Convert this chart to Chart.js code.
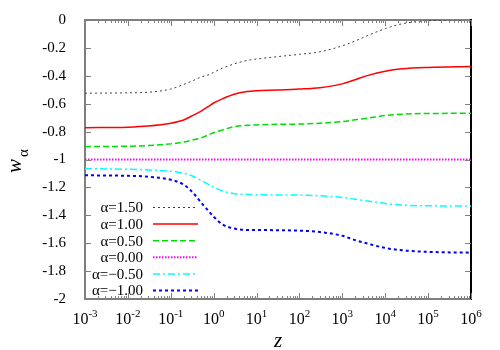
<!DOCTYPE html>
<html>
<head>
<meta charset="utf-8">
<script src="https://cdn.jsdelivr.net/npm/chart.js@4.4.1/dist/chart.umd.min.js"></script>
<style>
  html, body { margin: 0; padding: 0; background: #fff; }
  #wrap { width: 500px; height: 350px; }
</style>
</head>
<body>
<div id="wrap"><canvas id="chart"></canvas></div>
<script>
// z values (log axis) shared by all curves
const zValues = [1e-3, 1e-2, 0.03, 0.1, 0.2, 0.3, 0.5, 0.8, 1, 1.6, 3, 6, 10, 30, 100, 300, 1000, 2000, 4000, 1e4, 25000, 1e5, 1e6];

// alpha=1.50 ... alpha=-1.00
const legendLabels = ['\u03b1=1.50', '\u03b1=1.00', '\u03b1=0.50', '\u03b1=0.00', '\u03b1=\u22120.50', '\u03b1=\u22121.00'];

const wAlpha150 = [-0.525, -0.522, -0.518, -0.495, -0.462, -0.44, -0.41, -0.39, -0.375, -0.345, -0.315, -0.29, -0.28, -0.263, -0.246, -0.228, -0.185, -0.15, -0.11, -0.062, -0.027, -0.005, 0.0];
const wAlpha100 = [-0.772, -0.768, -0.76, -0.74, -0.717, -0.69, -0.655, -0.615, -0.595, -0.565, -0.532, -0.513, -0.507, -0.502, -0.495, -0.485, -0.458, -0.428, -0.397, -0.367, -0.35, -0.34, -0.334];
const wAlpha050 = [-0.908, -0.905, -0.9, -0.888, -0.875, -0.862, -0.846, -0.82, -0.808, -0.788, -0.765, -0.755, -0.752, -0.748, -0.746, -0.74, -0.728, -0.715, -0.703, -0.685, -0.675, -0.67, -0.669];
const wAlpha000 = [-1, -1, -1, -1, -1, -1, -1, -1, -1, -1, -1, -1, -1, -1, -1, -1, -1, -1, -1, -1, -1, -1, -1];
const wAlphaM050 = [-1.065, -1.07, -1.075, -1.085, -1.099, -1.115, -1.148, -1.183, -1.198, -1.225, -1.245, -1.25, -1.252, -1.254, -1.255, -1.26, -1.272, -1.285, -1.298, -1.315, -1.327, -1.332, -1.333];
const wAlphaM100 = [-1.113, -1.117, -1.123, -1.145, -1.18, -1.225, -1.305, -1.377, -1.41, -1.465, -1.495, -1.505, -1.505, -1.507, -1.51, -1.52, -1.547, -1.578, -1.604, -1.634, -1.651, -1.662, -1.668];

const yTicks = [0, -0.2, -0.4, -0.6, -0.8, -1, -1.2, -1.4, -1.6, -1.8, -2];
const xExponents = [-3, -2, -1, 0, 1, 2, 3, 4, 5, 6];

const SERIF = '"Liberation Serif", serif';

function makeSeries(label, arr, color, width, dash) {
  return {
    label: label,
    data: zValues.map((z, i) => ({ x: z, y: arr[i] })),
    borderColor: color,
    borderWidth: width,
    borderDash: dash,
    pointRadius: 0,
    fill: false,
    cubicInterpolationMode: 'monotone',
    xAxisID: 'x',
    yAxisID: 'y'
  };
}

// inward tick marks
const tickPlugin = {
  id: 'tickMarks',
  afterDatasetsDraw(chart) {
    const ctx = chart.ctx;
    const a = chart.chartArea;
    const xs = chart.scales.x;
    const ys = chart.scales.y;
    ctx.save();
    ctx.fillStyle = '#808080';
    yTicks.forEach(v => {
      const py = Math.round(ys.getPixelForValue(v));
      ctx.fillRect(a.left, py, 6, 1);
      ctx.fillRect(a.right - 6, py, 6, 1);
    });
    const first = xExponents[0], last = xExponents[xExponents.length - 1];
    for (let e = first; e <= last; e++) {
      for (let m = 1; m < 10; m++) {
        if (e === last && m > 1) break;
        const px = Math.round(xs.getPixelForValue(m * Math.pow(10, e)));
        const len = m === 1 ? 6 : 3;
        ctx.fillRect(px, a.bottom - len, 1, len);
        ctx.fillRect(px, a.top, 1, len);
      }
    }
    ctx.restore();
  }
};

// x labels 10^n, axis titles and key
const textPlugin = {
  id: 'texts',
  afterDraw(chart) {
    const ctx = chart.ctx;
    const a = chart.chartArea;
    const xs = chart.scales.x;
    ctx.save();
    ctx.fillStyle = '#000';
    ctx.textBaseline = 'alphabetic';
    ctx.textAlign = 'left';
    xExponents.forEach(e => {
      const px = xs.getPixelForValue(Math.pow(10, e));
      const sup = String(e);
      ctx.font = '16px ' + SERIF;
      const w1 = ctx.measureText('10').width;
      ctx.font = '11px ' + SERIF;
      const w2 = ctx.measureText(sup).width;
      const x0 = px - (w1 + w2) / 2;
      ctx.font = '16px ' + SERIF;
      ctx.fillText('10', x0, 324);
      ctx.font = '11px ' + SERIF;
      ctx.fillText(sup, x0 + w1, 317);
    });

    ctx.font = 'italic 21px ' + SERIF;
    ctx.textAlign = 'center';
    ctx.fillText('z', (a.left + a.right) / 2, 347);

    ctx.save();
    ctx.translate(21, 165);
    ctx.rotate(-Math.PI / 2);
    ctx.textAlign = 'left';
    ctx.font = 'italic 21px ' + SERIF;
    ctx.fillText('w', -8, 0);
    ctx.font = '15px ' + SERIF;
    ctx.fillText('\u03b1', 8, 7);
    ctx.restore();

    chart.data.datasets.forEach((ds, i) => {
      const ty = 207.5 + i * 16.6;
      ctx.font = '15px ' + SERIF;
      ctx.textAlign = 'right';
      ctx.textBaseline = 'middle';
      ctx.fillStyle = '#000';
      ctx.fillText(ds.label, 143, ty + 1);
      ctx.strokeStyle = ds.borderColor;
      ctx.lineWidth = ds.borderWidth;
      ctx.setLineDash(ds.borderDash || []);
      ctx.beginPath();
      ctx.moveTo(153, ty);
      ctx.lineTo(198, ty);
      ctx.stroke();
    });
    ctx.setLineDash([]);
    ctx.restore();
  }
};

document.addEventListener('DOMContentLoaded', function () {
  new Chart(document.getElementById('chart'), {
    type: 'line',
    data: {
      datasets: [
        makeSeries(legendLabels[0], wAlpha150, '#404040', 1, [2, 3]),
        makeSeries(legendLabels[1], wAlpha100, '#ff0000', 1.5, []),
        makeSeries(legendLabels[2], wAlpha050, '#00dd00', 1.5, [6, 3]),
        makeSeries(legendLabels[3], wAlpha000, '#ff00ff', 2, [1.5, 1.5]),
        makeSeries(legendLabels[4], wAlphaM050, '#00ffff', 1.5, [7, 3, 2, 3]),
        makeSeries(legendLabels[5], wAlphaM100, '#0000ff', 2, [3, 3])
      ]
    },
    options: {
      responsive: true,
      maintainAspectRatio: false,
      animation: false,
      layout: { padding: { left: 0, right: 29, top: 20, bottom: 0 } },
      plugins: { legend: { display: false }, tooltip: { enabled: false } },
      scales: {
        x: {
          type: 'logarithmic', position: 'bottom', min: 1e-3, max: 1e6,
          grid: { display: false },
          border: { display: true, color: '#7f7f7f', width: 2 },
          ticks: { display: false },
          afterFit: s => { s.height = 51; }
        },
        xTop: {
          type: 'logarithmic', position: 'top', min: 1e-3, max: 1e6,
          grid: { display: false },
          border: { display: true, color: '#7f7f7f', width: 2 },
          ticks: { display: false },
          afterFit: s => { s.height = 0; }
        },
        y: {
          position: 'left', min: -2, max: 0,
          grid: { display: false },
          border: { display: true, color: '#7f7f7f', width: 2 },
          afterBuildTicks: s => { s.ticks = yTicks.map(v => ({ value: v })); },
          ticks: {
            padding: 11,
            color: '#000',
            font: { family: SERIF, size: 15 },
            callback: v => String(Math.round(v * 10) / 10)
          },
          afterFit: s => { s.width = 85; }
        },
        yRight: {
          position: 'right', min: -2, max: 0,
          grid: { display: false },
          border: { display: true, color: '#000', width: 2 },
          ticks: { display: false },
          afterFit: s => { s.width = 0; }
        }
      }
    },
    plugins: [tickPlugin, textPlugin]
  });
});
</script>
</body>
</html>
